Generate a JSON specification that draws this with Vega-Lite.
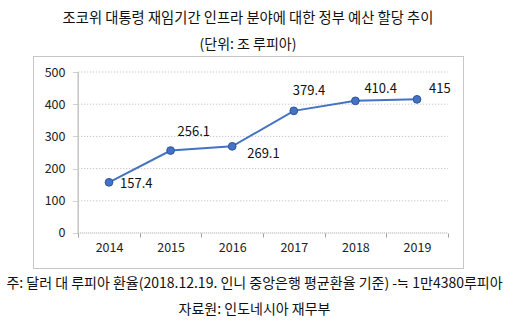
{
  "$schema": "https://vega.github.io/schema/vega-lite/v6.json",
  "width": 430,
  "height": 212,
  "autosize": {"type": "none"},
  "padding": {"left": 33, "top": 56, "right": 60, "bottom": 62},
  "background": "white",
  "config": {
    "font": "Noto Sans CJK KR",
    "view": {"stroke": "#8c8c8c", "strokeWidth": 1, "strokeDash": [1, 1]},
    "axis": {"labelFont": "Noto Sans CJK KR", "titleFont": "Noto Sans CJK KR", "labelColor": "#222", "titleColor": "#111"}
  },
  "title": {
    "text": "조코위 대통령 재임기간 인프라 분야에 대한 정부 예산 할당 추이",
    "subtitle": "(단위: 조 루피아)",
    "anchor": "middle",
    "font": "Noto Sans CJK KR",
    "subtitleFont": "Noto Sans CJK KR",
    "fontSize": 14.3,
    "subtitleFontSize": 14,
    "fontWeight": "normal",
    "color": "#111",
    "subtitleColor": "#111",
    "offset": 4,
    "subtitlePadding": 12
  },
  "data": {"values": [
    {"year": 2014, "value": 157.4},
    {"year": 2015, "value": 256.1},
    {"year": 2016, "value": 269.1},
    {"year": 2017, "value": 379.4},
    {"year": 2018, "value": 410.4},
    {"year": 2019, "value": 415}
  ]},
  "resolve": {"axis": {"x": "independent"}},
  "layer": [
    {
      "data": {"values": [{"g": 100}, {"g": 200}, {"g": 300}, {"g": 400}, {"g": 500}]},
      "mark": {"type": "rule", "color": "#b8b8b8", "strokeDash": [1, 2], "strokeWidth": 1},
      "encoding": {
        "x": {"datum": 2013.5, "type": "quantitative", "scale": {"domain": [2012.766, 2019.747], "nice": false, "zero": false},
          "axis": {"orient": "bottom", "offset": -35, "values": [2013.5, 2014.5, 2015.5, 2016.5, 2017.5, 2018.5, 2019.5], "labels": false, "domain": false, "grid": false, "ticks": true, "tickSize": 4, "tickColor": "#a0a0a0", "title": null}},
        "x2": {"datum": 2019.5},
        "y": {"field": "g", "type": "quantitative", "scale": {"domain": [-108.7, 549.7], "nice": false, "zero": false},
          "axis": {"orient": "left", "offset": -45, "values": [0, 100, 200, 300, 400, 500], "domain": false, "grid": false, "ticks": true, "tickSize": 5, "tickColor": "#a0a0a0", "tickDash": [1, 1], "labelPadding": 8, "labelFontSize": 12.5, "title": null}}
      }
    },
    {
      "data": {"values": [{}]},
      "mark": {"type": "rule", "color": "#a0a0a0", "strokeDash": [1, 1], "strokeWidth": 1},
      "encoding": {
        "x": {"datum": 2013.5, "type": "quantitative", "scale": {"domain": [2012.766, 2019.747], "nice": false, "zero": false}, "axis": null},
        "x2": {"datum": 2019.5},
        "y": {"datum": 0, "type": "quantitative", "scale": {"domain": [-108.7, 549.7], "nice": false, "zero": false}}
      }
    },
    {
      "data": {"values": [{}]},
      "mark": {"type": "rule", "color": "#c4c4c4", "strokeWidth": 1.5},
      "encoding": {
        "x": {"datum": 2013.5, "type": "quantitative", "scale": {"domain": [2012.766, 2019.747], "nice": false, "zero": false}, "axis": null},
        "y": {"datum": 0, "type": "quantitative", "scale": {"domain": [-108.7, 549.7], "nice": false, "zero": false}},
        "y2": {"datum": 500}
      }
    },
    {
      "mark": {"type": "line", "color": "#4472C4", "strokeWidth": 2, "point": {"filled": true, "size": 60, "color": "#4472C4", "stroke": "#2f5597", "strokeWidth": 1}},
      "encoding": {
        "x": {"field": "year", "type": "quantitative", "scale": {"domain": [2012.766, 2019.747], "nice": false, "zero": false},
          "axis": {"orient": "bottom", "offset": -35, "values": [2014, 2015, 2016, 2017, 2018, 2019], "format": "d", "domain": false, "ticks": false, "grid": false, "labelPadding": 8, "labelFontSize": 12.5,
            "title": ["주: 달러 대 루피아 환율(2018.12.19. 인니 중앙은행 평균환율 기준) -≒ 1만4380루피아", "자료원: 인도네시아 재무부"],
            "titleFontSize": 14, "titleFontWeight": "normal", "titlePadding": 23, "titleLineHeight": 26, "titleX": 221}},
        "y": {"field": "value", "type": "quantitative", "scale": {"domain": [-108.7, 549.7], "nice": false, "zero": false}}
      }
    },
    {
      "transform": [{"filter": "datum.year == 2014"}],
      "mark": {"type": "text", "align": "left", "baseline": "middle", "dx": 11, "dy": 2, "fontSize": 13, "color": "#111"},
      "encoding": {
        "x": {"field": "year", "type": "quantitative", "scale": {"domain": [2012.766, 2019.747], "nice": false, "zero": false}, "axis": null},
        "y": {"field": "value", "type": "quantitative", "scale": {"domain": [-108.7, 549.7], "nice": false, "zero": false}},
        "text": {"field": "value", "type": "quantitative", "format": ".1f"}
      }
    },
    {
      "transform": [{"filter": "datum.year == 2015"}],
      "mark": {"type": "text", "align": "left", "baseline": "middle", "dx": 7, "dy": -19, "fontSize": 13, "color": "#111"},
      "encoding": {
        "x": {"field": "year", "type": "quantitative", "scale": {"domain": [2012.766, 2019.747], "nice": false, "zero": false}, "axis": null},
        "y": {"field": "value", "type": "quantitative", "scale": {"domain": [-108.7, 549.7], "nice": false, "zero": false}},
        "text": {"field": "value", "type": "quantitative", "format": ".1f"}
      }
    },
    {
      "transform": [{"filter": "datum.year == 2016"}],
      "mark": {"type": "text", "align": "left", "baseline": "middle", "dx": 15, "dy": 8, "fontSize": 13, "color": "#111"},
      "encoding": {
        "x": {"field": "year", "type": "quantitative", "scale": {"domain": [2012.766, 2019.747], "nice": false, "zero": false}, "axis": null},
        "y": {"field": "value", "type": "quantitative", "scale": {"domain": [-108.7, 549.7], "nice": false, "zero": false}},
        "text": {"field": "value", "type": "quantitative", "format": ".1f"}
      }
    },
    {
      "transform": [{"filter": "datum.year == 2017"}],
      "mark": {"type": "text", "align": "left", "baseline": "middle", "dx": -1, "dy": -20, "fontSize": 13, "color": "#111"},
      "encoding": {
        "x": {"field": "year", "type": "quantitative", "scale": {"domain": [2012.766, 2019.747], "nice": false, "zero": false}, "axis": null},
        "y": {"field": "value", "type": "quantitative", "scale": {"domain": [-108.7, 549.7], "nice": false, "zero": false}},
        "text": {"field": "value", "type": "quantitative", "format": ".1f"}
      }
    },
    {
      "transform": [{"filter": "datum.year == 2018"}],
      "mark": {"type": "text", "align": "left", "baseline": "middle", "dx": 9, "dy": -12, "fontSize": 13, "color": "#111"},
      "encoding": {
        "x": {"field": "year", "type": "quantitative", "scale": {"domain": [2012.766, 2019.747], "nice": false, "zero": false}, "axis": null},
        "y": {"field": "value", "type": "quantitative", "scale": {"domain": [-108.7, 549.7], "nice": false, "zero": false}},
        "text": {"field": "value", "type": "quantitative", "format": ".1f"}
      }
    },
    {
      "transform": [{"filter": "datum.year == 2019"}],
      "mark": {"type": "text", "align": "left", "baseline": "middle", "dx": 12, "dy": -10, "fontSize": 13, "color": "#111"},
      "encoding": {
        "x": {"field": "year", "type": "quantitative", "scale": {"domain": [2012.766, 2019.747], "nice": false, "zero": false}, "axis": null},
        "y": {"field": "value", "type": "quantitative", "scale": {"domain": [-108.7, 549.7], "nice": false, "zero": false}},
        "text": {"field": "value", "type": "quantitative", "format": "d"}
      }
    }
  ]
}
